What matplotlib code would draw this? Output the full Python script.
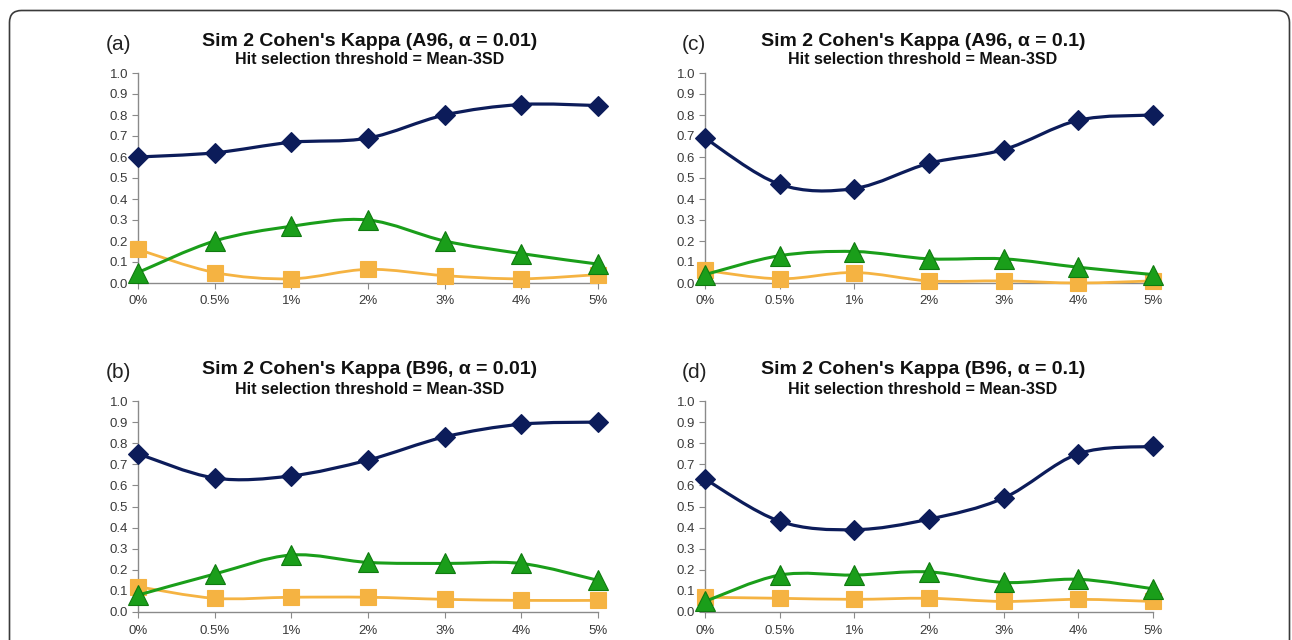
import numpy as np
import matplotlib
matplotlib.use("Agg")
import matplotlib.pyplot as plt
from matplotlib.path import Path
from matplotlib.patches import PathPatch, FancyBboxPatch
from matplotlib.transforms import IdentityTransform

plt.rcParams['font.family'] = ['Liberation Sans', 'DejaVu Sans']

levels = ["0%", "0.5%", "1%", "2%", "3%", "4%", "5%"]

# (a) A96, alpha = 0.01
a_blue = [0.60, 0.62, 0.67, 0.69, 0.80, 0.85, 0.845]
a_green = [0.05, 0.20, 0.27, 0.30, 0.20, 0.14, 0.09]
a_orange = [0.16, 0.05, 0.02, 0.065, 0.035, 0.02, 0.04]

# (b) B96, alpha = 0.01
b_blue = [0.75, 0.635, 0.645, 0.72, 0.83, 0.89, 0.90]
b_green = [0.08, 0.18, 0.27, 0.235, 0.23, 0.23, 0.15]
b_orange = [0.12, 0.065, 0.07, 0.07, 0.06, 0.055, 0.055]

# (c) A96, alpha = 0.1
c_blue = [0.69, 0.47, 0.45, 0.57, 0.635, 0.775, 0.80]
c_green = [0.04, 0.13, 0.15, 0.115, 0.115, 0.075, 0.04]
c_orange = [0.06, 0.02, 0.05, 0.01, 0.01, 0.0, 0.01]

# (d) B96, alpha = 0.1
d_blue = [0.63, 0.43, 0.39, 0.44, 0.54, 0.75, 0.785]
d_green = [0.05, 0.175, 0.175, 0.19, 0.14, 0.155, 0.11]
d_orange = [0.07, 0.065, 0.06, 0.065, 0.05, 0.06, 0.05]

panel_labels = ["(a)", "(b)", "(c)", "(d)"]
titles = ["Sim 2 Cohen's Kappa (A96, \u03b1 = 0.01)",
          "Sim 2 Cohen's Kappa (B96, \u03b1 = 0.01)",
          "Sim 2 Cohen's Kappa (A96, \u03b1 = 0.1)",
          "Sim 2 Cohen's Kappa (B96, \u03b1 = 0.1)"]
subtitle = "Hit selection threshold = Mean-3SD"

W, H = 1292, 640
NAVY = '#0c1c5a'
GREEN = '#1a9e1a'
GREEN_EDGE = '#0f7a0f'
ORANGE = '#f5b342'


def smooth_path(x, y):
    # excel-like smoothed line: cubic bezier segments through every point
    pts = np.column_stack([x, y]).astype(float)
    ext = np.vstack([pts[0], pts, pts[-1]])
    verts = [pts[0]]
    codes = [Path.MOVETO]
    for i in range(len(pts) - 1):
        p0, p1, p2, p3 = ext[i], ext[i + 1], ext[i + 2], ext[i + 3]
        c1 = p1 + (p2 - p0) / 6
        c2 = p2 - (p3 - p1) / 6
        verts += [c1, c2, p2]
        codes += [Path.CURVE4] * 3
    return Path(verts, codes)


def px_rect(left, top, right, bottom):
    return [left / W, 1 - bottom / H, (right - left) / W, (bottom - top) / H]


fig = plt.figure(figsize=(W / 100, H / 100), dpi=100)
fig.patch.set_facecolor('white')

# rounded frame around the whole figure
frame = FancyBboxPatch((9.5, -30), 1280, 629.5 + 30,
                       boxstyle="round,pad=0,rounding_size=12",
                       transform=IdentityTransform(), fill=False,
                       edgecolor='#3a3a3a', lw=1.2)
fig.add_artist(frame)

panels = [
    (px_rect(138, 73, 598, 283), a_blue, a_green, a_orange, (106, 45), (370, 42, 59)),
    (px_rect(138, 401, 598, 612), b_blue, b_green, b_orange, (106, 372), (370, 370, 389)),
    (px_rect(705, 73, 1153, 283), c_blue, c_green, c_orange, (682, 45), (923, 42, 59)),
    (px_rect(705, 401, 1153, 612), d_blue, d_green, d_orange, (682, 372), (923, 370, 389)),
]

x = np.arange(len(levels))

for k, (rect, blue, green, orange, lab_xy, tpos) in enumerate(panels):
    ax = fig.add_axes(rect)
    ax.set_xlim(0, len(levels) - 1)
    ax.set_ylim(0, 1)

    series = [
        (orange, ORANGE, ORANGE, 's', 11, 2.0),
        (green, GREEN, GREEN_EDGE, '^', 15, 2.2),
        (blue, NAVY, NAVY, 'D', 10, 2.3),
    ]
    for z, (vals, col, ecol, mk, ms, lw) in enumerate(series):
        ax.add_patch(PathPatch(smooth_path(x, vals), fill=False, edgecolor=col,
                               lw=lw, clip_on=False, zorder=3 + 2 * z))
        ax.plot(x, vals, ls='none', marker=mk, ms=ms, mfc=col, mec=ecol,
                mew=0.8, clip_on=False, zorder=4 + 2 * z)

    for s in ['top', 'right']:
        ax.spines[s].set_visible(False)
    for s in ['left', 'bottom']:
        ax.spines[s].set_color('#8a8a8a')
        ax.spines[s].set_linewidth(1.0)

    ax.set_yticks(np.arange(0, 1.01, 0.1))
    ax.set_yticklabels([f"{v:.1f}" for v in np.arange(0, 1.01, 0.1)])
    ax.set_xticks(x)
    ax.set_xticklabels(levels)
    ax.tick_params(axis='both', direction='out', length=4, width=0.8,
                   color='#8a8a8a', labelsize=9.5, labelcolor='#3a3a3a', pad=3)
    ax.tick_params(axis='x', pad=5)
    ax.set_facecolor('none')

    fig.text(lab_xy[0] / W, 1 - lab_xy[1] / H, panel_labels[k], ha='left',
             va='center', fontsize=15, color='#222222')
    fig.text(tpos[0] / W, 1 - tpos[1] / H, titles[k], ha='center', va='center',
             fontsize=14, fontweight='bold', color='#111111')
    fig.text(tpos[0] / W, 1 - tpos[2] / H, subtitle, ha='center', va='center',
             fontsize=11.5, fontweight='bold', color='#111111')

fig.savefig("out.png", dpi=100)
